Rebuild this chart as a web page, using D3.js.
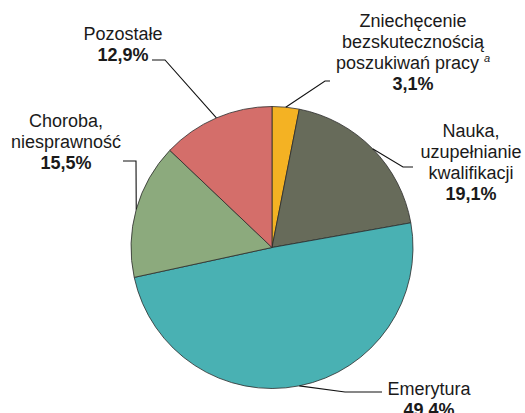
<!DOCTYPE html>
<html>
<head>
<meta charset="utf-8">
<script src="https://cdn.jsdelivr.net/npm/d3@7"></script>
<style>
  html, body { margin: 0; padding: 0; background: #fff; }
  svg { display: block; }
  text { font-family: "Liberation Sans", Arial, Helvetica, sans-serif; font-size: 18px; fill: #1a1a1a; }
</style>
</head>
<body>
<svg id="chart" width="525" height="413"></svg>
<script>
// Data
const categories = ["Zniechęcenie bezskutecznością poszukiwań pracy", "Nauka, uzupełnianie kwalifikacji", "Emerytura", "Choroba, niesprawność", "Pozostałe"];
const values = [3.1, 19.1, 49.4, 15.5, 12.9];
const valueLabels = ["3,1%", "19,1%", "49,4%", "15,5%", "12,9%"];
const labelLines = [
  ["Zniechęcenie", "bezskutecznością", "poszukiwań pracy"],
  ["Nauka,", "uzupełnianie", "kwalifikacji"],
  ["Emerytura"],
  ["Choroba,", "niesprawność"],
  ["Pozostałe"]
];
const footnoteMarks = ["a", null, null, null, null];
const colors = ["#F4B223", "#676B5A", "#49B1B3", "#8CAA7D", "#D46E6A"];

// Layout (positions of labels / leader elbows)
const cx = 272, cy = 247.5, R = 141;
const labelLayout = [
  { x: 413, y: 27, elbow: [325, 81], end: [330, 81] },
  { x: 471, y: 137, elbow: [403, 167], end: [413, 167] },
  { x: 429, y: 395, elbow: [345, 392], end: [382, 392] },
  { x: 66, y: 127, elbow: [136, 161], end: [123, 161] },
  { x: 123, y: 40, elbow: [165, 60], end: [152, 60] }
];
const lineH = 21;

const svg = d3.select("#chart");
const g = svg.append("g").attr("transform", `translate(${cx},${cy})`);

const pie = d3.pie().sort(null).value(d => d).startAngle(0).endAngle(2 * Math.PI);
const arcs = pie(values);
const arc = d3.arc().innerRadius(0).outerRadius(R);

g.selectAll("path.slice")
  .data(arcs)
  .enter().append("path")
  .attr("class", "slice")
  .attr("d", arc)
  .attr("fill", (d, i) => colors[i])
  .attr("stroke", "#2b2b2b")
  .attr("stroke-width", 0.8)
  .attr("stroke-linejoin", "round");

// Leader lines
const line = d3.line();
svg.selectAll("path.leader")
  .data(arcs)
  .enter().append("path")
  .attr("class", "leader")
  .attr("d", (d, i) => {
    const a = (d.startAngle + d.endAngle) / 2;
    const p0 = [cx + R * Math.sin(a), cy - R * Math.cos(a)];
    const L = labelLayout[i];
    return line([p0, L.elbow, L.end]);
  })
  .attr("fill", "none")
  .attr("stroke", "#111")
  .attr("stroke-width", 1.1);

// Labels
arcs.forEach((d, i) => {
  const L = labelLayout[i];
  const t = svg.append("text").attr("text-anchor", "middle");
  const lines = labelLines[i];
  lines.forEach((ln, j) => {
    t.append("tspan").attr("x", L.x).attr("y", L.y + j * lineH).text(ln);
    if (j === lines.length - 1 && footnoteMarks[i]) {
      t.append("tspan").text("\u00A0");
      t.append("tspan")
        .attr("dy", -7)
        .style("font-size", "11px")
        .style("font-style", "italic")
        .text(footnoteMarks[i]);
    }
  });
  t.append("tspan")
    .attr("x", L.x)
    .attr("y", L.y + lines.length * lineH)
    .style("font-weight", "bold")
    .text(valueLabels[i]);
});
</script>
</body>
</html>
